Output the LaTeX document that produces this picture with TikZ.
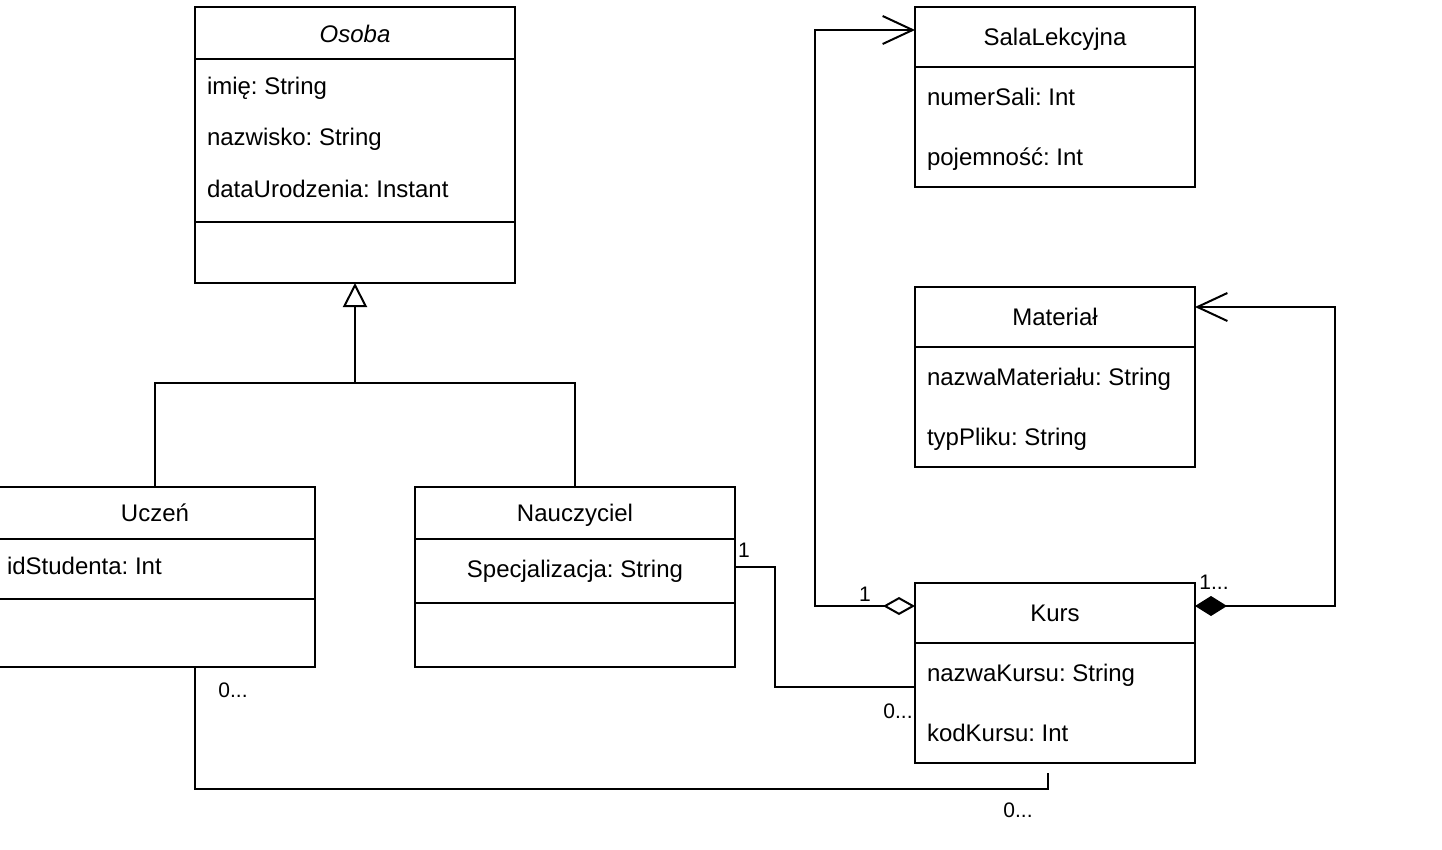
\documentclass[tikz,border=0pt]{standalone}
\usepackage{fontspec}
\setmainfont{Liberation Sans}
\frenchspacing
\usetikzlibrary{arrows.meta,calc}
\begin{document}
\begin{tikzpicture}[x=1pt,y=-1pt,
  line width=2pt, line join=miter,
  classbox/.style={draw, rectangle, anchor=north west, inner sep=0pt, outer sep=0pt},
  attr/.style={anchor=base west, inner sep=0pt, font=\fontsize{24}{28}\selectfont},
  title/.style={anchor=base, inner sep=0pt, font=\fontsize{24}{28}\selectfont},
  mult/.style={anchor=base, inner sep=0pt, font=\fontsize{21}{24}\selectfont},
  conn/.style={draw, line width=2pt}
]
\useasboundingbox (0,0) rectangle (1442,849);
\fill[white] (0,0) rectangle (1442,849);
\clip (0,0) rectangle (1442,849);

% Osoba
\node[classbox, minimum width=320pt, minimum height=276pt] (osoba) at (195,7) {};
\draw (195,59) -- (515,59);
\draw (195,222) -- (515,222);
\node[title, font=\fontsize{24}{28}\selectfont\itshape] (osobaT) at (355,42) {Osoba};
\node[attr] (o1) at (206,94) {imię: String};
\node[attr] (o2) at (206,145) {nazwisko: String};
\node[attr] (o3) at (206,197) {dataUrodzenia: Instant};

% Uczen
\node[classbox, minimum width=320pt, minimum height=180pt] (uczen) at (-5,487) {};
\draw (-5,539) -- (315,539);
\draw (-5,599) -- (315,599);
\node[title] (uczenT) at (155,521) {Uczeń};
\node[attr] (u1) at (6,574) {idStudenta: Int};

% Nauczyciel
\node[classbox, minimum width=320pt, minimum height=180pt] (naucz) at (415,487) {};
\draw (415,539) -- (735,539);
\draw (415,603) -- (735,603);
\node[title] (nauczT) at (575,521) {Nauczyciel};
\node[title] (n1) at (575,577) {Specjalizacja: String};

% SalaLekcyjna
\node[classbox, minimum width=280pt, minimum height=180pt] (sala) at (915,7) {};
\draw (915,67) -- (1195,67);
\node[title] (salaT) at (1055,45) {SalaLekcyjna};
\node[attr] (s1) at (926,105) {numerSali: Int};
\node[attr] (s2) at (926,165) {pojemność: Int};

% Material
\node[classbox, minimum width=280pt, minimum height=180pt] (mat) at (915,287) {};
\draw (915,347) -- (1195,347);
\node[title] (matT) at (1055,325) {Materiał};
\node[attr] (m1) at (926,385) {nazwaMateriału: String};
\node[attr] (m2) at (926,445) {typPliku: String};

% Kurs
\node[classbox, minimum width=280pt, minimum height=180pt] (kurs) at (915,583) {};
\draw (915,643) -- (1195,643);
\node[title] (kursT) at (1055,621) {Kurs};
\node[attr] (k1) at (926,681) {nazwaKursu: String};
\node[attr] (k2) at (926,741) {kodKursu: Int};

% inheritance
\coordinate (join) at ($(osoba.south)+(0,100)$);
\draw[-{Triangle[open,length=24pt,width=24pt]}] (join) -- (osoba.south);
\draw (uczen.north -| 155,0) |- (join) -| (naucz.north);

% aggregation Kurs -> SalaLekcyjna
\coordinate (kAgg) at ($(kurs.north west)+(0,23)$);
\coordinate (sIn) at ($(sala.north west)+(0,23)$);
\draw[{Diamond[open,length=32pt,width=18pt]}-{Straight Barb[length=30pt,width=28pt]}]
  (kAgg) -- ++(-100,0) |- (sIn);
\node[mult] (l1) at (865,601) {1};

% composition Kurs -> Material
\coordinate (kComp) at ($(kurs.north east)+(0,23)$);
\coordinate (mIn) at ($(mat.north east)+(0,20)$);
\draw[{Diamond[length=32pt,width=20pt]}-{Straight Barb[length=30pt,width=28pt]}]
  (kComp) -- ++(140,0) |- (mIn);
\node[mult] (l2) at (1214,589) {1...};

% Nauczyciel -> Kurs
\coordinate (nOut) at ($(naucz.north east)+(0,80)$);
\coordinate (kIn) at ($(kurs.north west)+(0,104)$);
\draw (nOut) -- ++(40,0) |- (kIn);
\node[mult] (l3) at (744,557) {1};
\node[mult] (l4) at (898,718) {0...};

% Uczen -> Kurs
\coordinate (uOut) at (uczen.south -| 195,0);
\coordinate (kEnd) at ($(kurs.south west)+(133,10)$);
\draw (uOut) |- ($(kEnd)+(0,16)$) -- (kEnd);
\node[mult] (l5) at (233,697) {0...};
\node[mult] (l6) at (1018,817) {0...};
\end{tikzpicture}
\end{document}
